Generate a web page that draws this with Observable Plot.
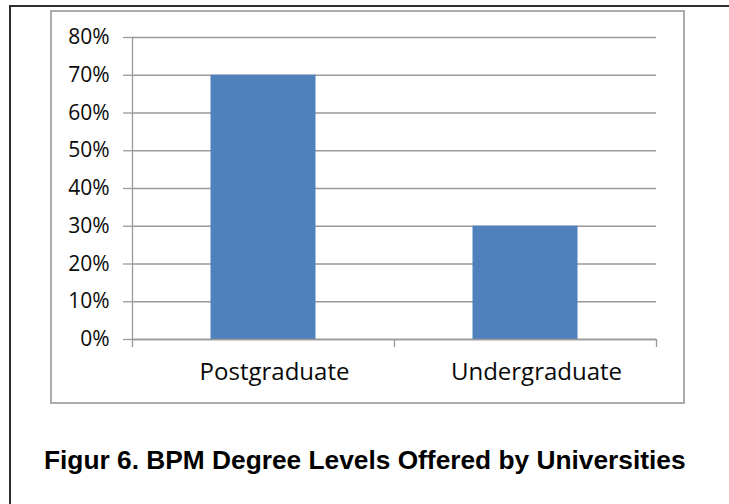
<!DOCTYPE html>
<html>
<head>
<meta charset="utf-8">
<script src="https://cdn.jsdelivr.net/npm/d3@7"></script>
<script src="https://cdn.jsdelivr.net/npm/@observablehq/plot@0.6"></script>
<style>
  html, body { margin: 0; padding: 0; background: #fff; overflow: hidden; }
  #page { position: relative; width: 729px; height: 504px; overflow: hidden; background: #fff; }
  #outer { position: absolute; left: 9px; top: 5px; width: 740px; height: 520px;
           border-top: 2px solid #2e2e2e; border-left: 2px solid #2e2e2e; box-sizing: border-box; }
  #box { position: absolute; left: 50px; top: 10px; width: 635px; height: 394px;
         border: 2px solid #ababab; box-sizing: border-box; }
  #chart { position: absolute; left: 0; top: 0; }
  #caption { position: absolute; left: 44px; top: 445px; white-space: nowrap;
             font-family: "Liberation Sans", Arial, sans-serif; font-weight: bold; font-size: 26.3px; color: #000; }
</style>
</head>
<body>
<div id="page">
  <div id="outer"></div>
  <div id="box"></div>
  <div id="chart"></div>
  <div id="caption">Figur 6. BPM Degree Levels Offered by Universities</div>
</div>
<script>
const categories = ["Postgraduate", "Undergraduate"];
const values = [0.70, 0.30];
const yTicks = [0, 0.1, 0.2, 0.3, 0.4, 0.5, 0.6, 0.7, 0.8];
const boundaryTicks = [0, 1, 2];
const labelTicks = [0.5, 1.5];

const data = categories.map((c, i) => ({category: c, index: i, value: values[i]}));
const gridColor = "#999999";

const chart = Plot.plot({
  width: 729,
  height: 420,
  marginLeft: 132,
  marginRight: 73,
  marginTop: 37,
  marginBottom: 81,
  style: {fontFamily: "'Open Sans', sans-serif", color: "#111", background: "transparent"},
  x: {type: "linear", domain: [0, 2]},
  y: {domain: [0, 0.8]},
  marks: [
    Plot.gridY(yTicks, {stroke: gridColor, strokeOpacity: 1, strokeWidth: 1.3}),
    Plot.rectY(data, {x1: "index", x2: d => d.index + 1, y: "value", fill: "#4F81BD", insetLeft: 78.5, insetRight: 78.5}),
    Plot.ruleX([0], {y1: 0, y2: 0.8, stroke: gridColor, strokeWidth: 1.3}),
    Plot.ruleY([0], {stroke: gridColor, strokeWidth: 1.3}),
    Plot.axisY({ticks: yTicks, tickFormat: d3.format(".0%"), tickSize: 9, tickPadding: 14,
                fontSize: 21, stroke: gridColor, strokeWidth: 1.3, fill: "#0a0a0a", label: null}),
    Plot.axisX({ticks: boundaryTicks, tickSize: 8, tickFormat: () => "", stroke: gridColor, strokeWidth: 1.3, label: null}),
    Plot.axisX({ticks: labelTicks, tickSize: 0, tickPadding: 23, dx: 11, fontSize: 24, fill: "#0a0a0a",
                tickFormat: t => categories[Math.floor(t)], label: null})
  ]
});
document.getElementById("chart").appendChild(chart);
</script>
</body>
</html>
